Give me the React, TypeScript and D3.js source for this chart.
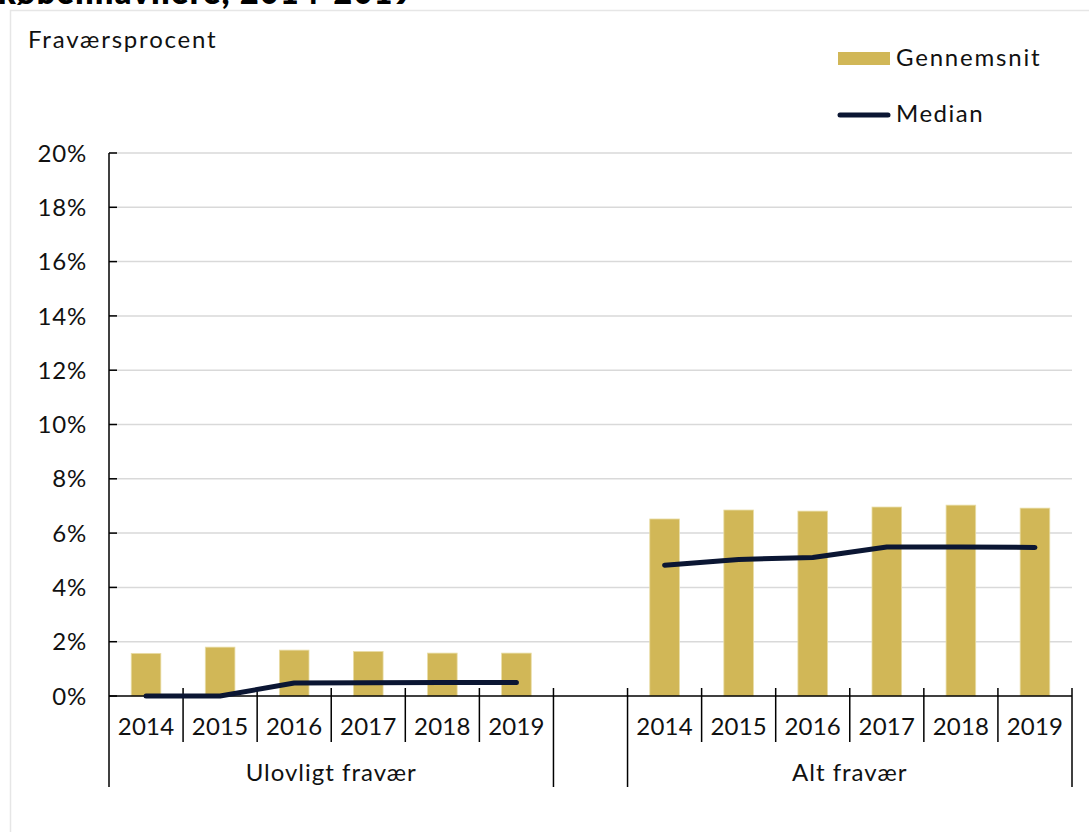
import React from "react";
import * as d3 from "d3";

const years = ["2014", "2015", "2016", "2017", "2018", "2019"];
const groups = ["Ulovligt fravær", "Alt fravær"];
const meanUlovligt = [1.57, 1.8, 1.69, 1.64, 1.58, 1.58];
const medianUlovligt = [0.0, 0.0, 0.48, 0.49, 0.5, 0.5];
const meanAlt = [6.52, 6.85, 6.81, 6.96, 7.03, 6.92];
const medianAlt = [4.82, 5.03, 5.1, 5.49, 5.49, 5.47];
const yTicks = [0, 2, 4, 6, 8, 10, 12, 14, 16, 18, 20];

const W = 1089;
const H = 832;
const FONT = "Lato, 'Open Sans', sans-serif";
const GOLD = "#D1B757";
const NAVY = "#0B1633";

export default function App() {
  const slots = [
    ...years.map((y) => "U" + y),
    "gap",
    ...years.map((y) => "A" + y),
  ];
  const x = d3.scaleBand<string>().domain(slots).range([109, 1072]).padding(0);
  const y = d3.scaleLinear().domain([0, 20]).range([696, 153]);
  const bw = x.bandwidth();
  const barW = bw * 0.4;

  const series = [
    { prefix: "U", mean: meanUlovligt, median: medianUlovligt },
    { prefix: "A", mean: meanAlt, median: medianAlt },
  ];

  const line = d3
    .line<{ k: string; v: number }>()
    .x((d) => (x(d.k) as number) + bw / 2)
    .y((d) => y(d.v));

  const groupExtents = [
    [x("U2014") as number, (x("U2019") as number) + bw],
    [x("A2014") as number, (x("A2019") as number) + bw],
  ];

  return (
    <div style={{ position: "absolute", left: 0, top: 0 }}>
      <svg width={W} height={H} style={{ display: "block", fontFamily: FONT }}>
        <rect x={0} y={0} width={W} height={H} fill="#fff" />
        <text x={-2} y={4} fontSize={32} fontWeight={800} letterSpacing={1.5} fill="#000">
          københavnere, 2014-2019
        </text>
        <rect x={10.5} y={10.5} width={W + 5} height={H} fill="none" stroke="#e6e6e6" strokeWidth={1.5} />
        <text x={28} y={48} fontSize={24} letterSpacing={1.8} fill="#111">
          Fraværsprocent
        </text>

        {/* legend */}
        <rect x={838} y={52} width={52} height={13} fill={GOLD} />
        <text x={896} y={66} fontSize={24} letterSpacing={1.8} fill="#111">
          Gennemsnit
        </text>
        <line x1={840} x2={888} y1={115} y2={115} stroke={NAVY} strokeWidth={5} strokeLinecap="round" />
        <text x={896} y={122} fontSize={24} letterSpacing={1.5} fill="#111">
          Median
        </text>

        {/* gridlines */}
        {yTicks.slice(1).map((t) => (
          <line key={t} x1={109} x2={1072} y1={y(t)} y2={y(t)} stroke="#d9d9d9" strokeWidth={1.5} />
        ))}
        {/* y ticks & labels */}
        {yTicks.map((t) => (
          <g key={t}>
            <line x1={109} x2={117} y1={y(t)} y2={y(t)} stroke="#000" strokeWidth={1.5} />
            <text x={87} y={y(t)} dy="0.36em" textAnchor="end" fontSize={24} letterSpacing={0.8} fill="#111">
              {t}%
            </text>
          </g>
        ))}

        {/* bars */}
        {series.map((s) =>
          s.mean.map((v, i) => {
            const k = s.prefix + years[i];
            return (
              <rect
                key={k}
                x={(x(k) as number) + (bw - barW) / 2}
                y={y(v)}
                width={barW}
                height={y(0) - y(v)}
                fill={GOLD}
                stroke="#e9dda6"
                strokeWidth={0.8}
              />
            );
          })
        )}

        {/* axes */}
        <line x1={109} x2={109} y1={153} y2={787} stroke="#000" strokeWidth={1.5} />
        <line x1={109} x2={1072} y1={y(0)} y2={y(0)} stroke="#000" strokeWidth={1.5} />
        {slots.map((k, i) => {
          const xl = x(k) as number;
          if (i === 0) return null;
          const isGroupEdge = k === "gap" || k === "A2014";
          return (
            <line
              key={"t" + k}
              x1={xl}
              x2={xl}
              y1={688}
              y2={isGroupEdge ? 787 : 742}
              stroke="#000"
              strokeWidth={1.5}
            />
          );
        })}
        <line x1={1072} x2={1072} y1={688} y2={787} stroke="#000" strokeWidth={1.5} />
        {slots
          .filter((k) => k !== "gap")
          .map((k) => (
            <text
              key={"l" + k}
              x={(x(k) as number) + bw / 2}
              y={735}
              textAnchor="middle"
              fontSize={24}
              letterSpacing={0.2}
              fill="#111"
            >
              {k.slice(1)}
            </text>
          ))}
        {groups.map((g, i) => (
          <text
            key={g}
            x={(groupExtents[i][0] + groupExtents[i][1]) / 2}
            y={781}
            textAnchor="middle"
            fontSize={24}
            letterSpacing={1}
            fill="#111"
          >
            {g}
          </text>
        ))}

        {/* median lines */}
        {series.map((s) => (
          <path
            key={"m" + s.prefix}
            d={line(s.median.map((v, i) => ({ k: s.prefix + years[i], v }))) || ""}
            fill="none"
            stroke={NAVY}
            strokeWidth={5}
            strokeLinecap="round"
            strokeLinejoin="round"
          />
        ))}
      </svg>
    </div>
  );
}
